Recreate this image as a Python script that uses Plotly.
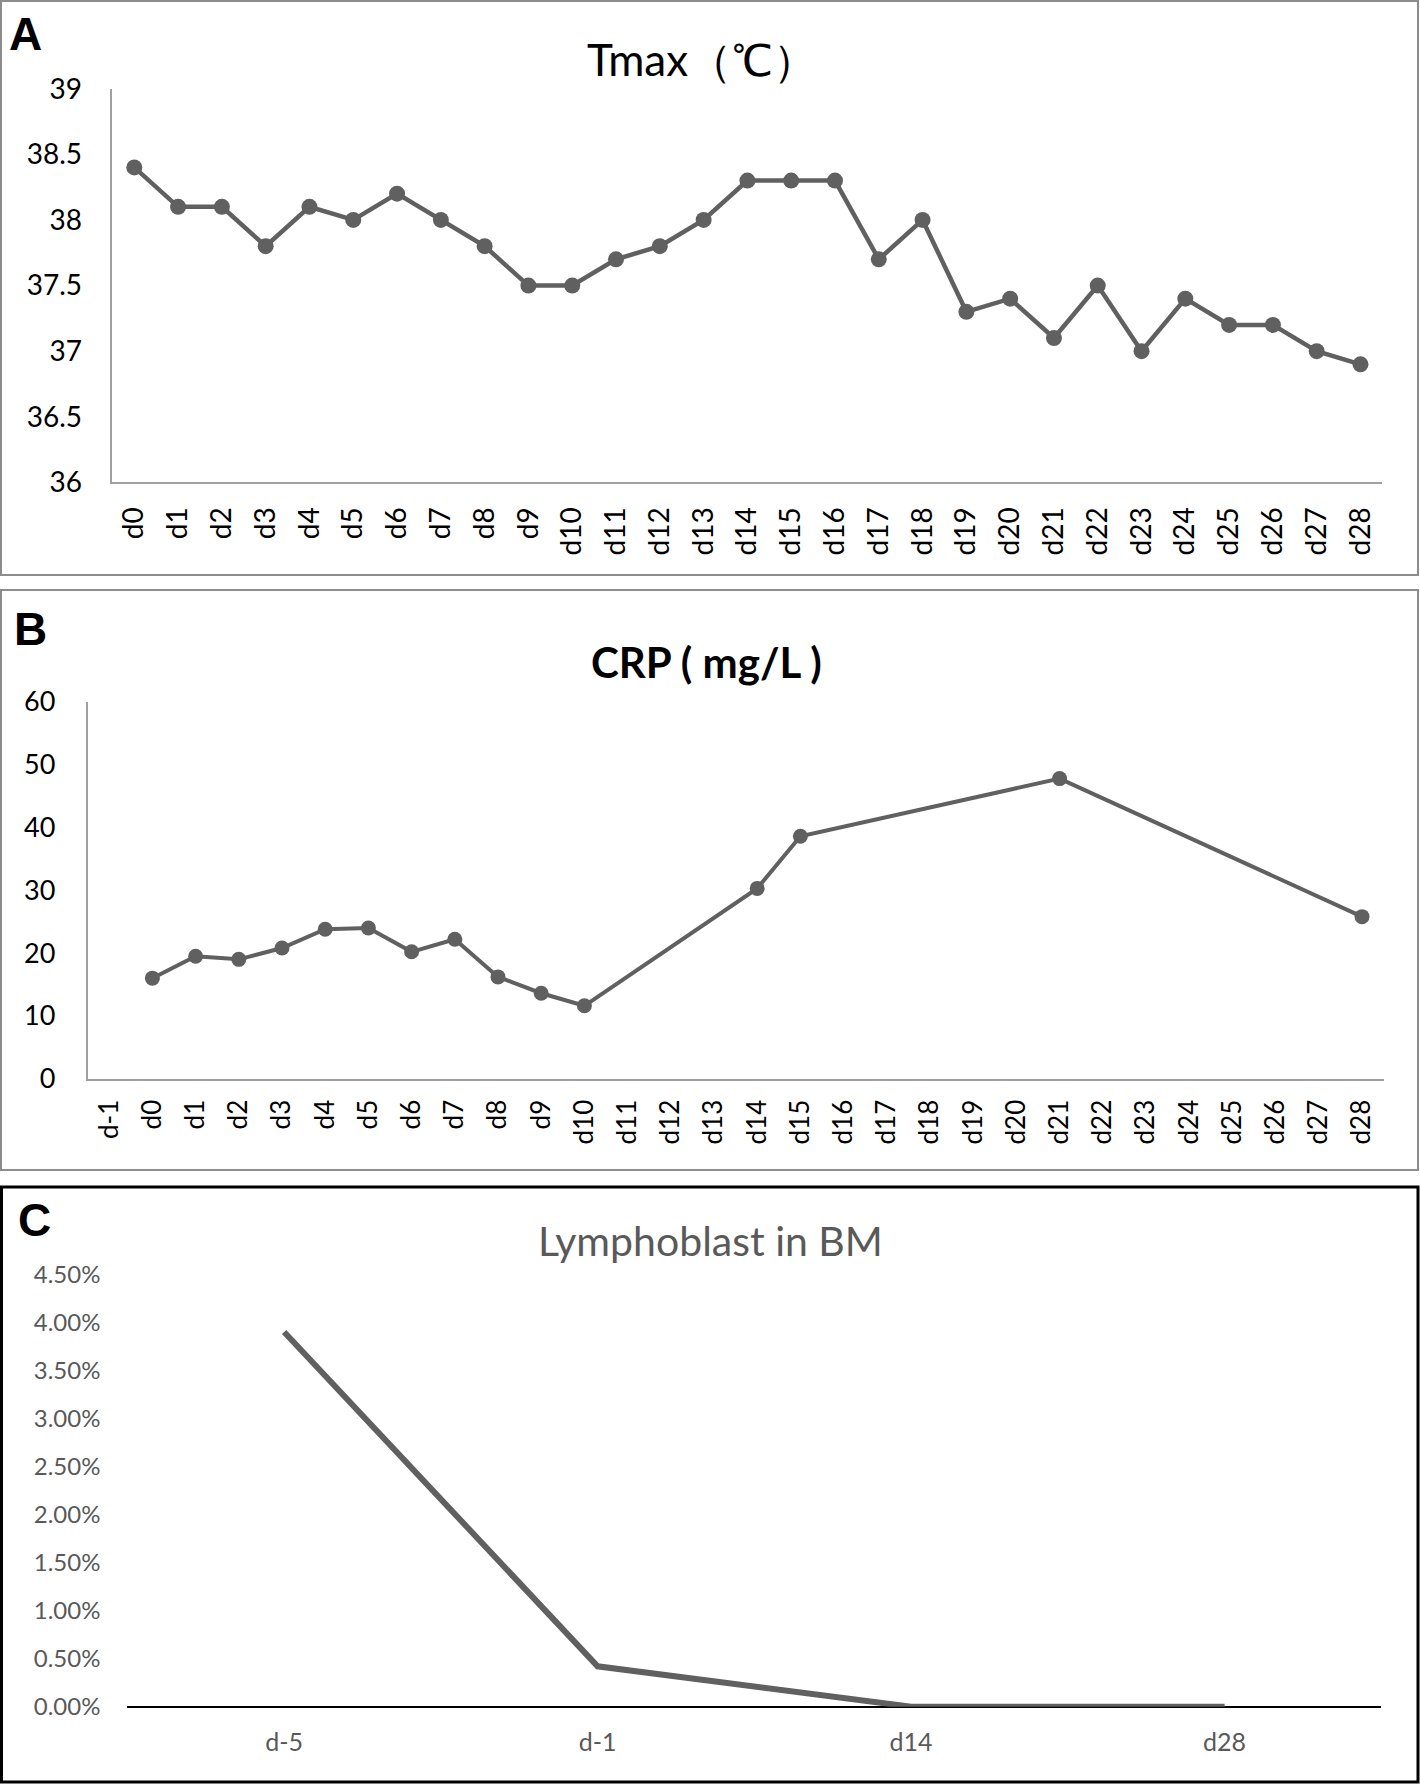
import plotly.graph_objects as go

# ---- data ----
days_a = ["d%d" % i for i in range(0, 29)]
tmax = [38.4, 38.1, 38.1, 37.8, 38.1, 38.0, 38.2, 38.0, 37.8, 37.5, 37.5, 37.7, 37.8, 38.0,
        38.3, 38.3, 38.3, 37.7, 38.0, 37.3, 37.4, 37.1, 37.5, 37.0, 37.4, 37.2, 37.2, 37.0, 36.9]

days_b = ["d-1"] + ["d%d" % i for i in range(0, 29)]
crp = [None, 16, 19.5, 19, 20.8, 23.8, 24, 20.2, 22.2, 16.2, 13.6, 11.6, None, None, None,
       30.3, 38.6, None, None, None, None, None, 47.8, None, None, None, None, None, None, 25.8]

days_c = ["d-5", "d-1", "d14", "d28"]
blast = [0.039, 0.0042, 0.0, 0.0]

W, H = 1420, 1784
LINE = "#606060"
FONT = "Lato"

def py(p):  # pixel y -> paper
    return 1 - p / H

def px(p):
    return p / W

fig = go.Figure()
fig.add_trace(go.Scatter(x=days_a, y=tmax, mode="lines+markers", xaxis="x", yaxis="y",
                         line=dict(color=LINE, width=4.5), marker=dict(color=LINE, size=16),
                         showlegend=False))
fig.add_trace(go.Scatter(x=days_b, y=crp, mode="lines+markers", xaxis="x2", yaxis="y2",
                         connectgaps=True,
                         line=dict(color=LINE, width=4), marker=dict(color=LINE, size=15),
                         showlegend=False))
fig.add_trace(go.Scatter(x=days_c, y=blast, mode="lines", xaxis="x3", yaxis="y3",
                         line=dict(color=LINE, width=6), showlegend=False))

axcol = "#a0a0a0"
fig.update_layout(
    width=W, height=H, margin=dict(l=0, r=0, t=0, b=0, autoexpand=False),
    paper_bgcolor="white", plot_bgcolor="white",
    font=dict(family=FONT, color="black"),
    xaxis=dict(domain=[px(112.4), px(1382.4)], anchor="y", type="category",
               categoryorder="array", categoryarray=days_a, range=[-0.5, 28.5],
               automargin=False,
               showline=True, linecolor=axcol, linewidth=1.5, showgrid=False,
               tickangle=-90, tickfont=dict(size=28, family=FONT), ticks="",
               ticklabelstandoff=12),
    yaxis=dict(domain=[py(482.4), py(88.7)], anchor="x", range=[36, 39], dtick=0.5,
               automargin=False,
               showline=True, linecolor=axcol, linewidth=1.5, showgrid=False, zeroline=False,
               tickfont=dict(size=28, family=FONT), ticks="", ticklabelstandoff=23),
    xaxis2=dict(domain=[px(87.6), px(1383.6)], anchor="y2", type="category",
                categoryorder="array", categoryarray=days_b, range=[-0.5, 29.5],
                automargin=False,
                showline=True, linecolor=axcol, linewidth=1.5, showgrid=False,
                tickangle=-90, tickfont=dict(size=26, family=FONT), ticks="",
                ticklabelstandoff=9),
    yaxis2=dict(domain=[py(1078.6), py(702)], anchor="x2", range=[0, 60], dtick=10,
                automargin=False,
                showline=True, linecolor=axcol, linewidth=1.5, showgrid=False, zeroline=False,
                tickfont=dict(size=27, family=FONT), ticks="", ticklabelstandoff=25),
    xaxis3=dict(domain=[px(127.4), px(1381.3)], anchor="y3", type="category",
                categoryorder="array", categoryarray=days_c, range=[-0.5, 3.5],
                automargin=False,
                showline=False, showgrid=False, ticks="", ticklabelstandoff=18,
                tickfont=dict(size=25, family=FONT, color="#595959")),
    yaxis3=dict(domain=[py(1706.7), py(1274.3)], anchor="x3", range=[0, 0.045], dtick=0.005,
                automargin=False,
                tickformat=".2%", showline=False, showgrid=False, zeroline=True,
                zerolinecolor="black", zerolinewidth=1.5,
                tickfont=dict(size=24, family=FONT, color="#595959"), ticks="",
                ticklabelstandoff=26),
)

# panel borders
fig.add_shape(type="rect", xref="paper", yref="paper", x0=px(1), x1=px(1418), y0=py(575), y1=py(1),
              line=dict(color="#8c8c8c", width=2))
fig.add_shape(type="rect", xref="paper", yref="paper", x0=px(1), x1=px(1418), y0=py(1170), y1=py(590),
              line=dict(color="#8c8c8c", width=2))
fig.add_shape(type="rect", xref="paper", yref="paper", x0=px(1.5), x1=px(1418), y0=py(1782), y1=py(1187),
              line=dict(color="black", width=3))

def note(text, x, y, size, color="black", family=FONT):
    fig.add_annotation(text=text, x=px(x), y=py(y), xref="paper", yref="paper",
                       xanchor="center", yanchor="middle", showarrow=False,
                       font=dict(size=size, family=family, color=color))

# titles
note("Tmax（℃）", 702, 59, 44)
note("<b>CRP ( mg/L )</b>", 706, 662, 42)
note("Lymphoblast in BM", 710, 1240, 41, color="#595959")

# panel letters
for lab, xx, yy in [("A", 25, 34), ("B", 31, 629), ("C", 34, 1220)]:
    note("<b>%s</b>" % lab, xx, yy, 46, family="Liberation Sans")

fig.write_html("out.html", config={"displayModeBar": False},
               post_script="document.body.style.margin='0px';")
